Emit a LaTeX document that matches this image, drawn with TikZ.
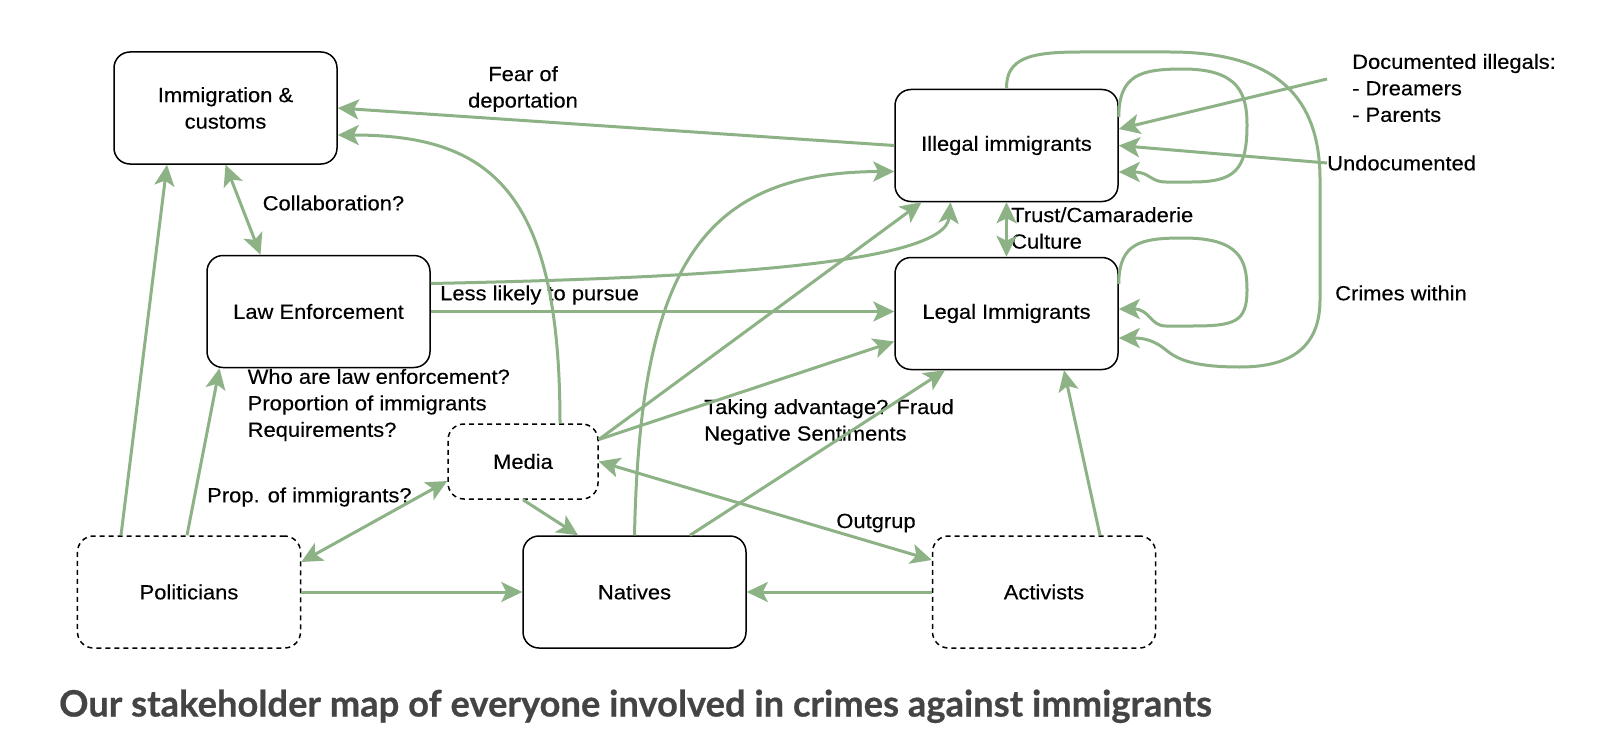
\documentclass[tikz,border=0pt]{standalone}
\usepackage{fontspec}
\usepackage{graphicx}
\setmainfont{Liberation Sans}[FakeStretch=1.07,FakeBold=0.25]
\newfontfamily\titlefont{Lato}[BoldFeatures={FakeBold=0.6}]
\usetikzlibrary{arrows.meta}
\definecolor{sage}{RGB}{140,178,134}
\definecolor{ttl}{RGB}{68,68,68}
\newcommand\lblfont{\fontsize{20.5bp}{26.5bp}\selectfont}
\begin{document}
\begin{tikzpicture}[x=1bp,y=-1bp,
  box/.style={draw=black, line width=1.5bp, rounded corners=16bp, minimum width=223bp, minimum height=112bp, align=center, font=\lblfont, inner sep=0pt},
  dbox/.style={box, dash pattern=on 5bp off 4bp},
  conn/.style={draw=sage, line width=3bp, -{Stealth[length=21bp,width=20bp,inset=5bp]}},
  bconn/.style={draw=sage, line width=3bp, {Stealth[length=21bp,width=20bp,inset=5bp]}-{Stealth[length=21bp,width=20bp,inset=5bp]}},
  lbl/.style={font=\lblfont, align=left, inner sep=0pt}]
\fill[white] (0,0) rectangle (1604,754);
\useasboundingbox (0,0) rectangle (1604,754);

% nodes
\node[box] (imm) at (225.5,108) {Immigration \&\\customs};
\node[box] (law) at (318.5,311.5) {Law Enforcement};
\node[box] (ill) at (1006.5,145.5) {Illegal immigrants};
\node[box] (leg) at (1006.5,313.5) {Legal Immigrants};
\node[dbox, minimum width=150bp, minimum height=75bp] (med) at (523,461.5) {Media};
\node[dbox] (pol) at (189,592) {Politicians};
\node[box] (nat) at (634.5,592) {Natives};
\node[dbox] (act) at (1044,592) {Activists};

% labels
\node[lbl, align=center] (tfear) at (523,89) {Fear of\\deportation};
\node[lbl, anchor=west] (tcol) at (262.5,203) {Collaboration?};
\node[lbl, anchor=west] (tless) at (440,295) {Less likely to pursue};
\node[lbl, anchor=west] (twho) at (247.5,405) {Who are law enforcement?\\Proportion of immigrants\\Requirements?};
\node[lbl, anchor=west] (tprop) at (207,497) {Prop. of immigrants?};
\node[lbl, anchor=west] (ttake) at (704,422) {Taking advantage? Fraud\\Negative Sentiments};
\node[lbl] (tout) at (876,523) {Outgrup};
\node[lbl, anchor=west] (ttrust) at (1011,228) {Trust/Camaraderie\\Culture};
\node[lbl, anchor=west] (tdoc) at (1352,88) {Documented illegals:\\- Dreamers\\- Parents};
\node[lbl, anchor=west] (tund) at (1327,163) {Undocumented};
\node[lbl, anchor=west] (tcri) at (1335,293) {Crimes within};
\coordinate (docend) at (1327,79);

% connectors
\draw[conn] (ill.west) -- (imm.east);
\draw[conn] ([xshift=37bp]med.north) .. controls (560,190) and (490,135) .. ([yshift=-27bp]imm.east);
\draw[bconn] (imm.south) -- ([xshift=-58bp]law.north);
\draw[conn] ([xshift=-68bp]pol.north) -- ([xshift=-58.5bp]imm.south);
\draw[conn] ([xshift=-2bp]pol.north) -- ([xshift=-99bp]law.south);
\draw[conn] (law.east) -- (law.east -| leg.west);
\draw[conn] ([yshift=28bp]law.east) .. controls (700,278) and (945,265) .. ([xshift=-56bp]ill.south);
\draw[bconn] (ill.south) -- (leg.north);
\draw[conn] ([yshift=22bp]med.east) -- ([xshift=-85bp]ill.south);
\draw[conn] ([yshift=22bp]med.east) -- ([yshift=-28bp]leg.west);
\draw[conn] (nat.north) .. controls (640,270) and (700,172) .. ([yshift=-26bp]ill.west);
\draw[conn] ([xshift=55.5bp]nat.north) -- ([xshift=-61.5bp]leg.south);
\draw[conn] (med.south) -- ([xshift=-56.5bp]nat.north);
\draw[bconn] ([yshift=30bp]pol.east) -- ([yshift=-19.5bp]med.west);
\draw[conn] (pol.east) -- (nat.west);
\draw[conn] (act.west) -- (nat.east);
\draw[bconn] (med.east) -- ([yshift=32bp]act.west);
\draw[conn] ([xshift=56bp]act.north) -- ([xshift=57.5bp]leg.south);
\draw[conn] (docend) -- ([yshift=16.5bp]ill.east);
\draw[conn] (tund.west) -- (ill.east);
% self loops
\draw[conn] ([yshift=28.5bp]ill.east) .. controls (1119,75) and (1140,69) .. (1183,69)
  .. controls (1240,69) and (1247,95) .. (1247,125)
  .. controls (1247,170) and (1235,182) .. (1192,182) -- (1166,182)
  .. controls (1150,182) and (1150,172) .. ([yshift=-26.5bp]ill.east);
\draw[conn] ([yshift=29.5bp]leg.east) .. controls (1119,243) and (1140,238) .. (1183,238)
  .. controls (1240,238) and (1247,260) .. (1247,290)
  .. controls (1247,322) and (1235,326) .. (1192,326) -- (1166,326)
  .. controls (1150,326) and (1150,309) .. ([yshift=4.5bp]leg.east);
\draw[conn] (ill.north) .. controls (1006,58) and (1030,52) .. (1080,52) -- (1170,52)
  .. controls (1290,52) and (1320,110) .. (1320,180) -- (1320,300)
  .. controls (1320,355) and (1280,367) .. (1240,367)
  .. controls (1195,367) and (1178,360) .. (1166,350)
  .. controls (1155,341) and (1145,338) .. ([yshift=-24.5bp]leg.east);

% title
\node[anchor=base west, inner sep=0pt, text=ttl] (title) at (59,716.5)
  {\resizebox{1152bp}{!}{\titlefont\bfseries Our stakeholder map of everyone involved in crimes against immigrants}};
\end{tikzpicture}
\end{document}
